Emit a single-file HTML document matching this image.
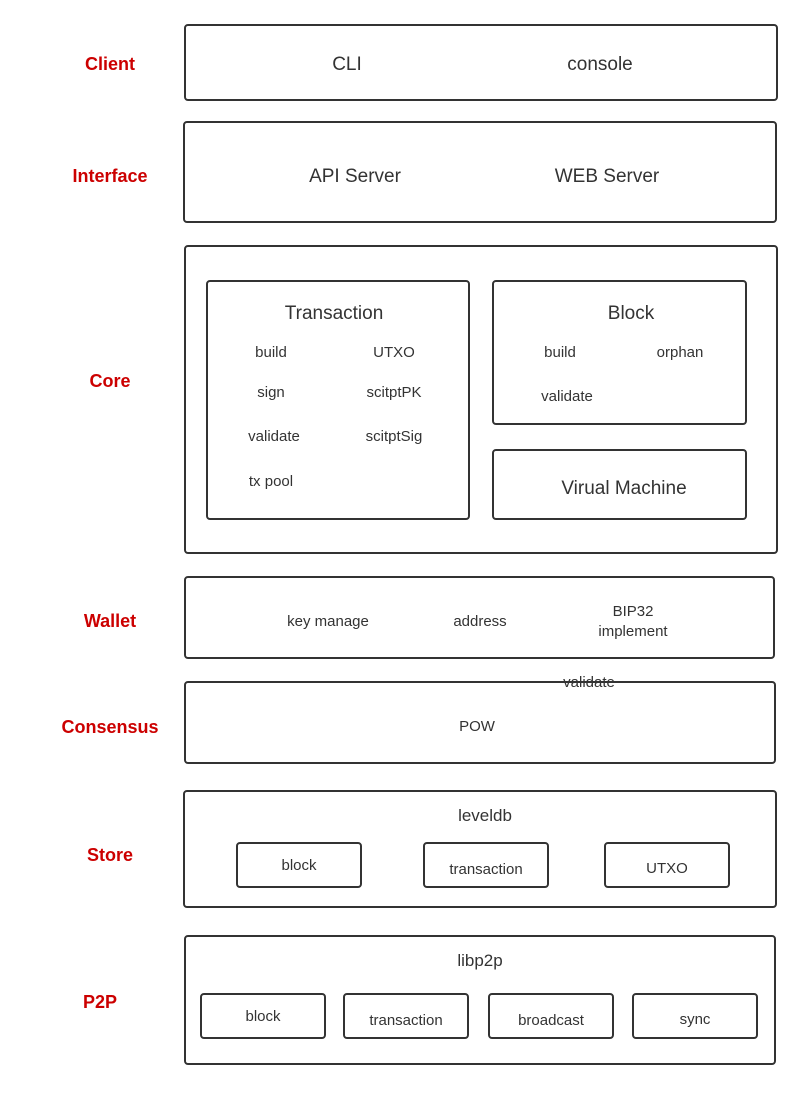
<!DOCTYPE html>
<html><head><meta charset="utf-8"><style>
body{margin:0;background:#fff}
svg text{font-family:"Liberation Sans",sans-serif;fill:#333}
.r{fill:#c00;font-size:18px;text-anchor:middle;font-weight:bold}
.b{fill:none;stroke:#333;stroke-width:2}
</style></head><body>
<svg width="802" height="1090" viewBox="0 0 802 1090" xmlns="http://www.w3.org/2000/svg">
<g class="b">
<rect x="185" y="25" width="592" height="75" rx="3" class="b"/>
<rect x="184" y="122" width="592" height="100" rx="3" class="b"/>
<rect x="185" y="246" width="592" height="307" rx="3" class="b"/>
<rect x="207" y="281" width="262" height="238" rx="3" class="b"/>
<rect x="493" y="281" width="253" height="143" rx="3" class="b"/>
<rect x="493" y="450" width="253" height="69" rx="3" class="b"/>
<rect x="185" y="577" width="589" height="81" rx="3" class="b"/>
<rect x="185" y="682" width="590" height="81" rx="3" class="b"/>
<rect x="184" y="791" width="592" height="116" rx="3" class="b"/>
<rect x="237" y="843" width="124" height="44" rx="3" class="b"/>
<rect x="424" y="843" width="124" height="44" rx="3" class="b"/>
<rect x="605" y="843" width="124" height="44" rx="3" class="b"/>
<rect x="185" y="936" width="590" height="128" rx="3" class="b"/>
<rect x="201" y="994" width="124" height="44" rx="3" class="b"/>
<rect x="344" y="994" width="124" height="44" rx="3" class="b"/>
<rect x="489" y="994" width="124" height="44" rx="3" class="b"/>
<rect x="633" y="994" width="124" height="44" rx="3" class="b"/>
</g>
<text class="r" x="110" y="70">Client</text>
<text class="r" x="110" y="182">Interface</text>
<text class="r" x="110" y="387">Core</text>
<text class="r" x="110" y="627">Wallet</text>
<text class="r" x="110" y="733">Consensus</text>
<text class="r" x="110" y="861">Store</text>
<text class="r" x="100" y="1008">P2P</text>
<g text-anchor="middle">
<text x="347" y="70" font-size="19">CLI</text>
<text x="600" y="70" font-size="19">console</text>
<text x="355" y="182" font-size="19">API Server</text>
<text x="607" y="182" font-size="19">WEB Server</text>
<text x="334" y="319" font-size="19">Transaction</text>
<text x="271" y="357" font-size="15">build</text>
<text x="394" y="357" font-size="15">UTXO</text>
<text x="271" y="397" font-size="15">sign</text>
<text x="394" y="397" font-size="15">scitptPK</text>
<text x="274" y="441" font-size="15">validate</text>
<text x="394" y="441" font-size="15">scitptSig</text>
<text x="271" y="486" font-size="15">tx pool</text>
<text x="631" y="319" font-size="19">Block</text>
<text x="560" y="357" font-size="15">build</text>
<text x="680" y="357" font-size="15">orphan</text>
<text x="567" y="401" font-size="15">validate</text>
<text x="624" y="494" font-size="19">Virual Machine</text>
<text x="328" y="626" font-size="15">key manage</text>
<text x="480" y="626" font-size="15">address</text>
<text x="633" y="616" font-size="15">BIP32</text>
<text x="633" y="636" font-size="15">implement</text>
<text x="589" y="687" font-size="15">validate</text>
<text x="477" y="731" font-size="15">POW</text>
<text x="485" y="821" font-size="17">leveldb</text>
<text x="299" y="870" font-size="15">block</text>
<text x="486" y="874" font-size="15">transaction</text>
<text x="667" y="873" font-size="15">UTXO</text>
<text x="480" y="966" font-size="17">libp2p</text>
<text x="263" y="1021" font-size="15">block</text>
<text x="406" y="1025" font-size="15">transaction</text>
<text x="551" y="1025" font-size="15">broadcast</text>
<text x="695" y="1024" font-size="15">sync</text>
</g>
</svg>
</body></html>
